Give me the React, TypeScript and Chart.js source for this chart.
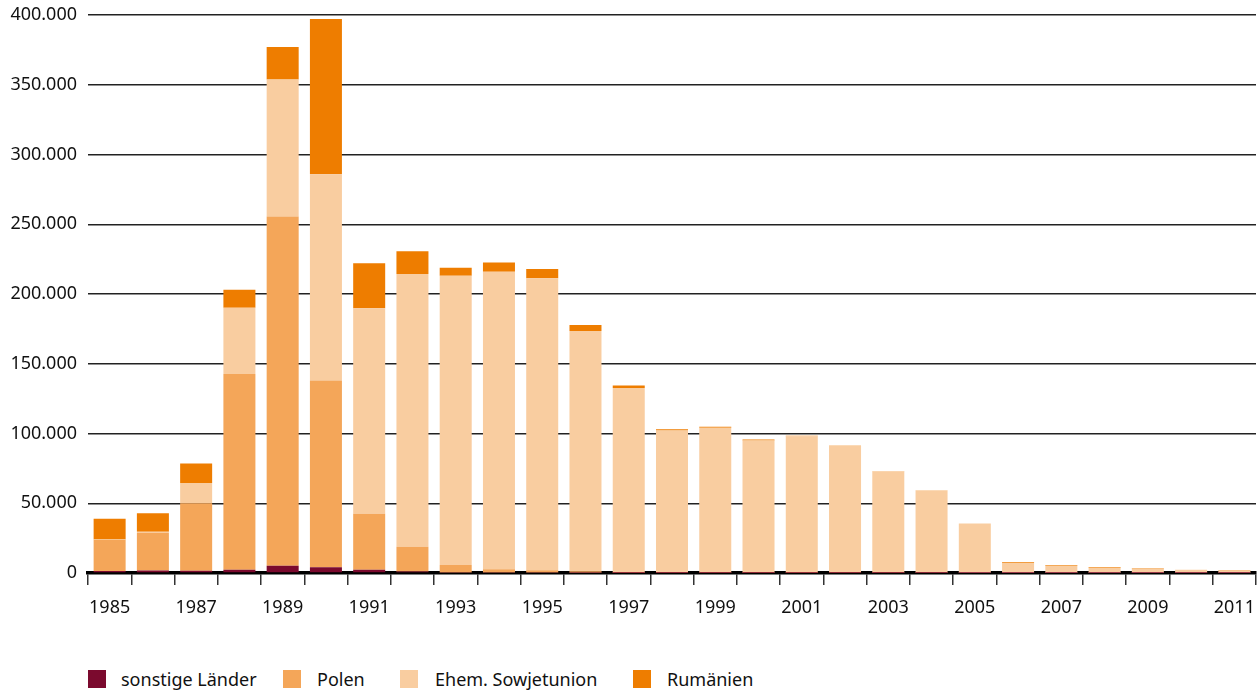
import React, { useEffect, useRef } from "react";
import { Chart, registerables } from "chart.js";

Chart.register(...registerables);

const years = [
  "1985", "1986", "1987", "1988", "1989", "1990", "1991", "1992", "1993", "1994",
  "1995", "1996", "1997", "1998", "1999", "2000", "2001", "2002", "2003", "2004",
  "2005", "2006", "2007", "2008", "2009", "2010", "2011",
];

const sonstige = [1509, 1717, 1622, 2373, 5212, 4101, 2368, 1101, 299, 322, 293, 150, 60, 37, 33, 26, 21, 20, 15, 10, 7, 5, 3, 2, 2, 2, 2];
const polen = [22075, 27188, 48423, 140226, 250340, 133872, 40129, 17742, 5431, 2440, 1677, 1175, 687, 488, 428, 484, 623, 553, 444, 278, 80, 80, 70, 47, 30, 20, 15];
const sowjetunion = [460, 753, 14488, 47572, 98134, 147950, 147320, 195576, 207347, 213214, 209409, 172181, 131895, 101550, 103599, 94558, 97434, 90587, 72289, 58728, 35396, 7000, 5100, 3800, 3000, 2300, 1800];
const rumaenien = [14924, 13130, 13990, 12902, 23387, 111150, 32178, 16146, 5811, 6615, 6519, 4284, 1777, 1005, 855, 547, 380, 256, 137, 76, 39, 600, 550, 450, 400, 0, 300];

const seriesNames = ["sonstige Länder", "Polen", "Ehem. Sowjetunion", "Rumänien"];
const seriesColors = ["#7b0a2e", "#f4a659", "#f9cda0", "#ee7d00"];

const FONT = '"Noto Sans", "Open Sans", sans-serif';

function fmt(v: number): string {
  const s = Math.round(v).toString();
  return s.replace(/\B(?=(\d{3})+(?!\d))/g, ".");
}

const legendPos = [
  { box: 88, text: 121 },
  { box: 283, text: 317 },
  { box: 400, text: 435 },
  { box: 633, text: 667 },
];

export default function App() {
  const ref = useRef<HTMLCanvasElement | null>(null);

  useEffect(() => {
    if (!ref.current) return;
    const values = [sonstige, polen, sowjetunion, rumaenien];
    const chart = new Chart(ref.current, {
      type: "bar",
      data: {
        labels: years,
        datasets: values.map((d, i) => ({
          label: seriesNames[i],
          data: d,
          backgroundColor: seriesColors[i],
          borderWidth: 0,
          barPercentage: 0.74,
          categoryPercentage: 1,
        })),
      },
      options: {
        animation: false,
        responsive: true,
        maintainAspectRatio: false,
        layout: { padding: { top: 15, right: 4, left: 0, bottom: 0 } },
        plugins: {
          legend: { display: false },
          tooltip: { enabled: false },
        },
        scales: {
          x: {
            stacked: true,
            z: 1,
            grid: {
              display: true,
              drawOnChartArea: false,
              drawTicks: true,
              tickLength: 12,
              color: "#333",
              lineWidth: 1.5,
              offset: true,
            },
            border: { display: true, color: "#000", width: 3.5 },
            ticks: {
              autoSkip: false,
              maxRotation: 0,
              minRotation: 0,
              padding: 12,
              color: "#111",
              font: { family: FONT, size: 18 },
              callback: (_v: any, i: number) => (i % 2 === 0 ? years[i] : ""),
            },
            afterFit: (scale: any) => {
              scale.height = 67;
              scale.paddingLeft = 0;
              scale.paddingRight = 0;
            },
          },
          y: {
            stacked: true,
            min: 0,
            max: 400000,
            grid: {
              display: true,
              drawTicks: false,
              color: "#222",
              lineWidth: 1.5,
            },
            border: { display: false },
            ticks: {
              stepSize: 50000,
              padding: 11,
              color: "#111",
              font: { family: FONT, size: 18 },
              callback: (v: any) => fmt(Number(v)),
            },
            afterFit: (scale: any) => {
              scale.width = 88;
              scale.paddingTop = 0;
              scale.paddingBottom = 0;
            },
          },
        },
      },
    });
    return () => chart.destroy();
  }, []);

  return (
    <div
      style={{
        position: "fixed",
        left: 0,
        top: 0,
        width: 1260,
        height: 697,
        background: "#fff",
        fontFamily: FONT,
      }}
    >
      <div style={{ position: "absolute", left: 0, top: 0, width: 1260, height: 640 }}>
        <canvas ref={ref} />
      </div>
      {seriesNames.map((name, i) => (
        <React.Fragment key={name}>
          <div
            style={{
              position: "absolute",
              left: legendPos[i].box,
              top: 670,
              width: 18,
              height: 18,
              background: seriesColors[i],
            }}
          />
          <div
            style={{
              position: "absolute",
              left: legendPos[i].text,
              top: 667,
              fontSize: 18,
              lineHeight: "24px",
              color: "#111",
              whiteSpace: "nowrap",
            }}
          >
            {name}
          </div>
        </React.Fragment>
      ))}
    </div>
  );
}
